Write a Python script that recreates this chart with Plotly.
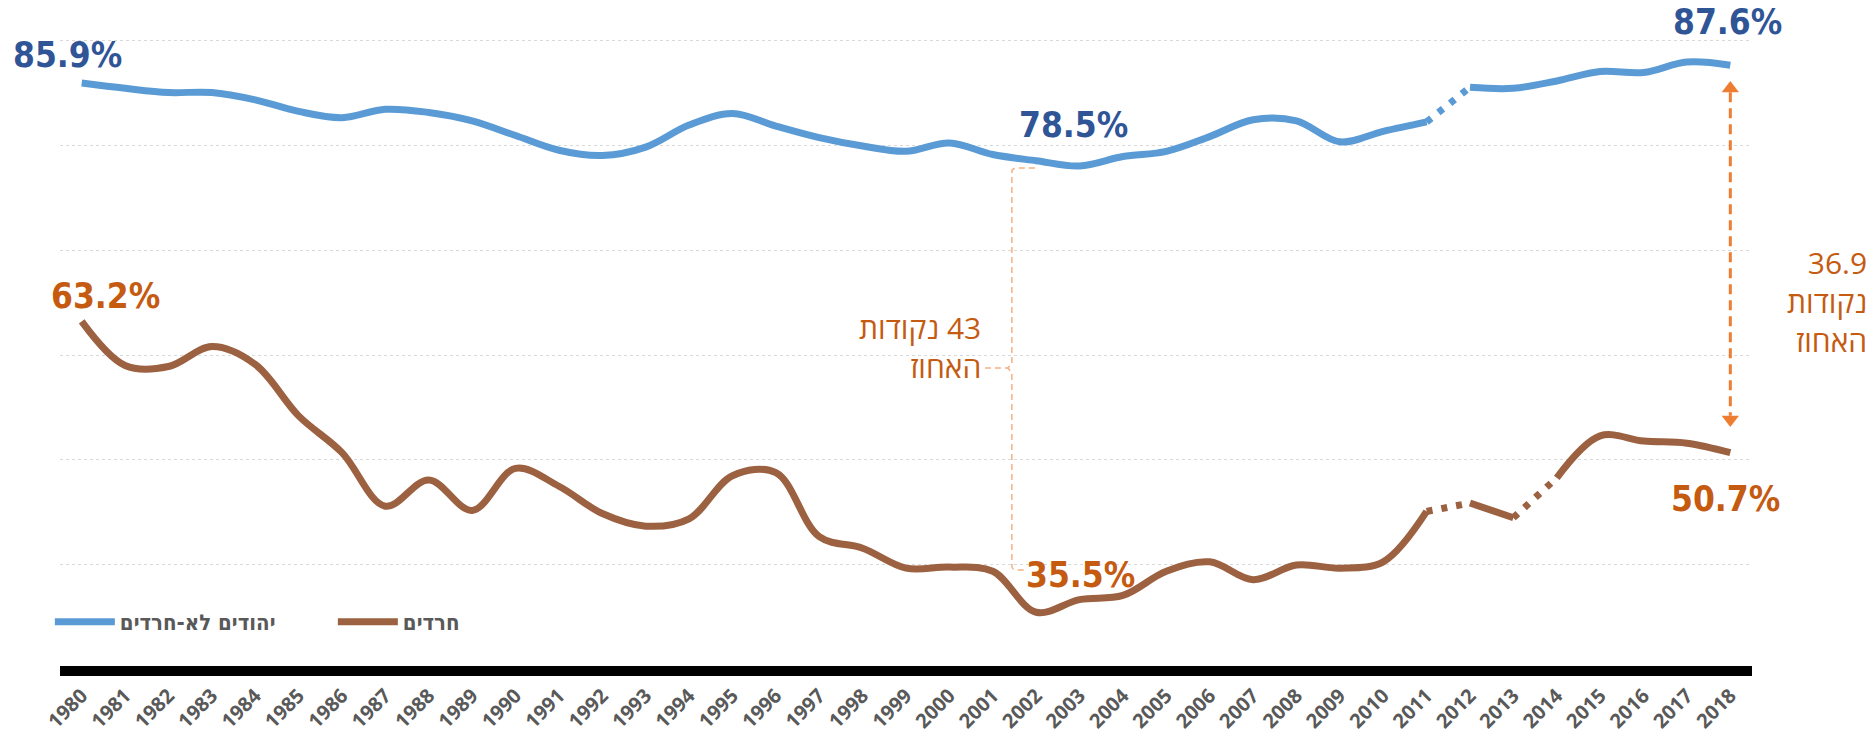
import plotly.graph_objects as go

years = list(range(1980, 2019))
non_haredi = [85.9, 85.4, 85.0, 85.0, 84.3, 83.2, 82.6, 83.4, 83.1, 82.3,
              80.9, 79.5, 79.0, 79.8, 81.9, 83.0, 81.8, 80.7, 79.9, 79.4,
              80.2, 79.1, 78.5, 78.0, 78.9, 79.4, 80.8, 82.4, 82.3, 80.3,
              81.3, 82.2, 85.5, 85.4, 86.1, 87.0, 86.9, 87.9, 87.6]
haredi = [63.2, 59.0, 58.9, 60.8, 59.1, 54.2, 50.7, 45.6, 48.1, 45.2,
          49.2, 47.5, 44.9, 43.7, 44.4, 48.5, 48.8, 42.7, 41.6, 39.7,
          39.8, 39.4, 35.5, 36.7, 37.1, 39.4, 40.3, 38.6, 40.0, 39.7,
          40.3, 45.1, 45.9, 44.5, 48.3, 52.3, 51.8, 51.6, 50.7]
name_blue = "יהודים לא-חרדים"
name_brown = "חרדים"
# segments: (start_year, end_year, dotted?)
blue_segments = [(1980, 2011, False), (2011, 2012, True), (2012, 2018, False)]
brown_segments = [(1980, 2011, False), (2011, 2012, True), (2012, 2013, False),
                  (2013, 2014, True), (2014, 2018, False)]

BLUE = "#5B9BD5"
BROWN = "#9C6140"
BLUE_TXT = "#2F5597"
ORANGE_TXT = "#C55A11"
LIGHT_OR = "#F4B183"
ARROW = "#ED7D31"
GREY = "#595959"
NUM_FONT = "Liberation Sans Narrow, DejaVu Sans Condensed, Roboto, sans-serif"
HEB_BOLD = "DejaVu Sans Condensed, Liberation Sans Narrow, sans-serif"
LIGHT_FONT = "Open Sans, Liberation Sans, DejaVu Sans, sans-serif"

fig = go.Figure()


def add_series(vals, segs, color, name):
    first = True
    for a, b, dotted in segs:
        i0, i1 = years.index(a), years.index(b)
        fig.add_trace(go.Scatter(
            x=years[i0:i1 + 1], y=vals[i0:i1 + 1], mode="lines",
            line=dict(color=color, width=7, shape="spline", smoothing=1,
                      dash="6px,9px" if dotted else "solid"),
            name=name, legendgroup=name, showlegend=first and not dotted,
            hoverinfo="skip"))
        first = False


add_series(non_haredi, blue_segments, BLUE, name_blue)
add_series(haredi, brown_segments, BROWN, name_brown)

# double-headed arrow at last year (gap)
ax_top = non_haredi[-1] - 2.22
ax_bot = haredi[-1] + 3.15
fig.add_trace(go.Scatter(
    x=[years[-1], years[-1]], y=[ax_top, ax_bot], mode="markers",
    marker=dict(symbol=["triangle-up", "triangle-down"], size=15, color=ARROW),
    showlegend=False, hoverinfo="skip"))
fig.add_shape(type="line", xref="x", yref="y", x0=years[-1], x1=years[-1],
              y0=ax_top - 0.36, y1=ax_bot + 0.36,
              line=dict(color=ARROW, width=3, dash="10px,6px"))

# curly bracket for 2002 gap
bx = 2001.44
path = (f"M 2001.97,77.81 L 2001.55,77.81 Q {bx},77.81 {bx},77.4 "
        f"L {bx},59.2 L 2001.35,58.76 L {bx},58.3 L {bx},39.9 "
        f"Q {bx},39.52 2001.55,39.52 L 2001.79,39.52")
fig.add_shape(type="path", xref="x", yref="y", path=path,
              line=dict(color=LIGHT_OR, width=1.5, dash="6px,4px"))
fig.add_shape(type="line", xref="x", yref="y", x0=2000.82, x1=2001.35,
              y0=58.76, y1=58.76, line=dict(color=LIGHT_OR, width=1.5, dash="6px,4px"))

annos = []


def val_label(x, y, text, color, xs, ys):
    annos.append(dict(x=x, y=y, xref="x", yref="y", text=text, showarrow=False,
                      xshift=xs, yshift=ys, xanchor="center", yanchor="middle",
                      font=dict(family=NUM_FONT, size=35, color=color, weight="bold")))


i02 = years.index(2002)
val_label(years[0], non_haredi[0], f"{non_haredi[0]}%", BLUE_TXT, -14.5, 28)
val_label(years[0], haredi[0], f"{haredi[0]}%", ORANGE_TXT, 23.5, 25)
val_label(years[i02], non_haredi[i02], f"{non_haredi[i02]}%", BLUE_TXT, 37, 36)
val_label(years[-1], non_haredi[-1], f"{non_haredi[-1]}%", BLUE_TXT, -2.5, 43)
val_label(years[i02], haredi[i02], f"{haredi[i02]}%", ORANGE_TXT, 44, 37)
val_label(years[-1], haredi[-1], f"{haredi[-1]}%", ORANGE_TXT, -5, -46)

gap_2002 = round(non_haredi[i02] - haredi[i02])
gap_2018 = round(non_haredi[-1] - haredi[-1], 1)
annos.append(dict(x=2000.77, y=60.76, xref="x", yref="y",
                  text=f"נקודות\u200e {gap_2002}<br>האחוז", showarrow=False,
                  xanchor="right", yanchor="middle", align="right",
                  font=dict(family=LIGHT_FONT, size=30, color=ORANGE_TXT, weight=400)))
annos.append(dict(x=1.0691, y=65.14, xref="paper", yref="y",
                  text=f"{gap_2018}<br>נקודות<br>האחוז", showarrow=False,
                  xanchor="right", yanchor="middle", align="right",
                  font=dict(family=LIGHT_FONT, size=30, color=ORANGE_TXT, weight=400)))

fig.update_layout(
    width=1875, height=738,
    margin=dict(l=60, r=123, t=0, b=72, autoexpand=False),
    paper_bgcolor="white", plot_bgcolor="white",
    annotations=annos,
    legend=dict(orientation="h", x=-0.006, y=0.066, xanchor="left", yanchor="middle",
                entrywidth=208, itemwidth=60,
                font=dict(family=HEB_BOLD, size=22, color=GREY, weight="bold"),
                bgcolor="rgba(0,0,0,0)"),
    xaxis=dict(range=[1979.5, 2018.5], tickvals=years, ticktext=[str(y) for y in years],
               tickangle=-45, showgrid=False, zeroline=False, showline=True,
               linecolor="black", linewidth=10, ticks="", automargin=False,
               tickfont=dict(family="Open Sans, sans-serif", size=20, color=GREY, weight="bold")),
    yaxis=dict(range=[30.38, 93.81], tickvals=[40, 50, 60, 70, 80, 90],
               showticklabels=False, showgrid=True, gridcolor="#D9D9D9",
               griddash="dot", gridwidth=1, zeroline=False, showline=False,
               automargin=False),
    showlegend=True,
)

fig.write_html("out.html", config={"displayModeBar": False},
               post_script="document.body.style.margin='0';document.body.style.overflow='hidden';")
